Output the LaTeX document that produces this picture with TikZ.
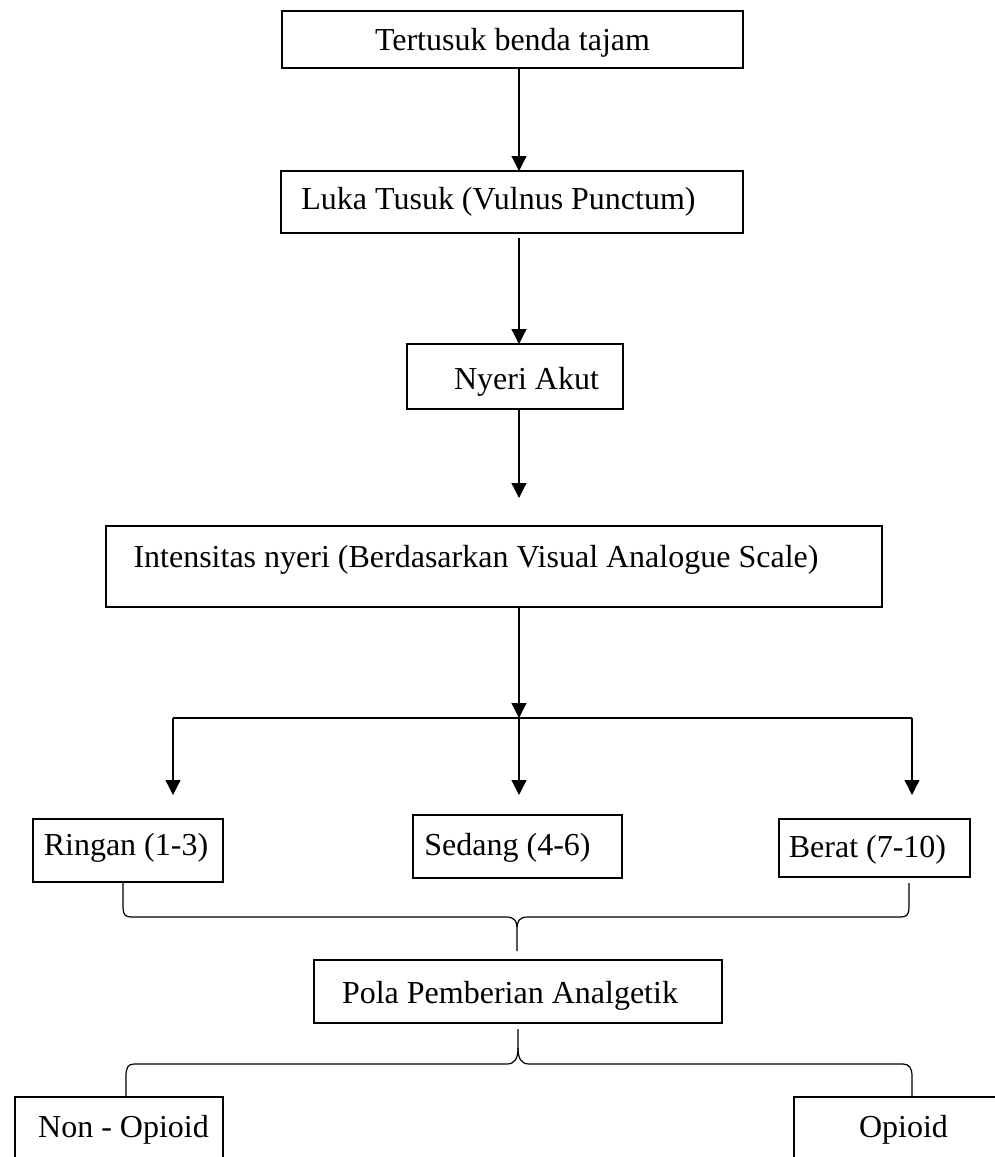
\documentclass[tikz,border=0pt]{standalone}
\usepackage{fontspec}
\setmainfont{Liberation Serif}
\usetikzlibrary{arrows.meta}
\begin{document}
\begin{tikzpicture}[x=0.5pt,y=-0.5pt,
  every node/.style={font=\fontsize{16}{19}\selectfont},
  kotak/.style={draw,line width=1.2pt,inner sep=0pt,outer sep=0pt,anchor=north west},
  garis/.style={line width=0.6pt},
  panah/.style={garis,-{Triangle[width=7.5pt,length=7.5pt]}}]
\useasboundingbox (0,0) rectangle (995,1157);
\coordinate (sumbu) at (519,0);
\node[kotak,minimum width=230.5pt,text height=19.5pt,text depth=9pt] (tusuk) at (282,11) {Tertusuk benda tajam};
\node[kotak,minimum width=231pt,text height=19pt,text depth=12pt] (luka) at (281,171) {Luka Tusuk (Vulnus Punctum)\hspace*{13.5pt}};
\node[kotak,minimum width=108pt,text height=22.5pt,text depth=10pt] (nyeri) at (407,344) {\hspace*{11.5pt}Nyeri Akut};
\node[kotak,minimum width=388pt,text height=20.5pt,text depth=20pt] (intensitas) at (106,526) {Intensitas nyeri (Berdasarkan Visual Analogue Scale)\hspace*{18pt}};
\node[kotak,minimum width=95pt,text height=18pt,text depth=13.5pt] (ringan) at (33,819) {Ringan (1-3)\hspace*{2pt}};
\node[kotak,minimum width=104.5pt,text height=20pt,text depth=11.5pt] (sedang) at (413,815) {Sedang (4-6)\hspace*{10pt}};
\node[kotak,minimum width=95.5pt,text height=19pt,text depth=10pt] (berat) at (779,819) {Berat (7-10)\hspace*{7pt}};
\node[kotak,minimum width=204pt,text height=21.5pt,text depth=10pt] (pola) at (314,960) {Pola Pemberian Analgetik\hspace*{8pt}};
\node[kotak,minimum width=104pt,text height=20pt,text depth=11.5pt] (nonopioid) at (15,1097) {\hspace*{4.5pt}Non - Opioid};
\node[kotak,minimum width=109.5pt,text height=20pt,text depth=11.5pt] (opioid) at (794,1097) {Opioid};
\draw[panah] (tusuk.south -| sumbu) -- (luka.north -| sumbu);
\draw[panah,shorten <=2.5pt] (luka.south -| sumbu) -- (nyeri.north -| sumbu);
\draw[panah,shorten >=14pt] (nyeri.south -| sumbu) -- (intensitas.north -| sumbu);
\coordinate (cabang) at (519,718);
\coordinate (cabangkiri) at (173,718);
\coordinate (cabangkanan) at (912,718);
\draw[panah] (intensitas.south -| sumbu) -- (cabang);
\draw[garis] (cabangkiri) -- (cabangkanan);
\draw[panah,shorten >=12pt] (cabangkiri) -- (cabangkiri |- ringan.north);
\draw[panah,shorten >=10pt] (cabang) -- (cabang |- sedang.north);
\draw[panah,shorten >=12pt] (cabangkanan) -- (cabangkanan |- berat.north);
\coordinate (temu1) at (517,951);
\draw[garis] ([xshift=-2.5pt,yshift=-0.5pt]ringan.south) -- ++(0,24)
  .. controls +(0,7) and +(-6,0) .. (131,917) -- (506,917)
  .. controls +(8,0) and +(0,-10) .. (517,930) -- (temu1) -- (517,930)
  .. controls +(0,-10) and +(-8,0) .. (528,917) -- (901,917)
  .. controls +(6,0) and +(0,7) .. (909,907) -- ([xshift=17.25pt,yshift=-3pt]berat.south);
\draw[garis] ([yshift=-3pt]pola.south) coordinate (temu2) -- (518,1048)
  .. controls +(0,10) and +(8,0) .. (507,1064) -- (134,1064)
  .. controls +(-6,0) and +(0,-8) .. (126,1076) -- ([xshift=3.5pt]nonopioid.north);
\draw[garis] (518,1048) .. controls +(0,10) and +(-8,0) .. (529,1064) -- (903,1064)
  .. controls +(6,0) and +(0,-8) .. (912,1076) -- ([xshift=4.25pt]opioid.north);
\end{tikzpicture}
\end{document}
